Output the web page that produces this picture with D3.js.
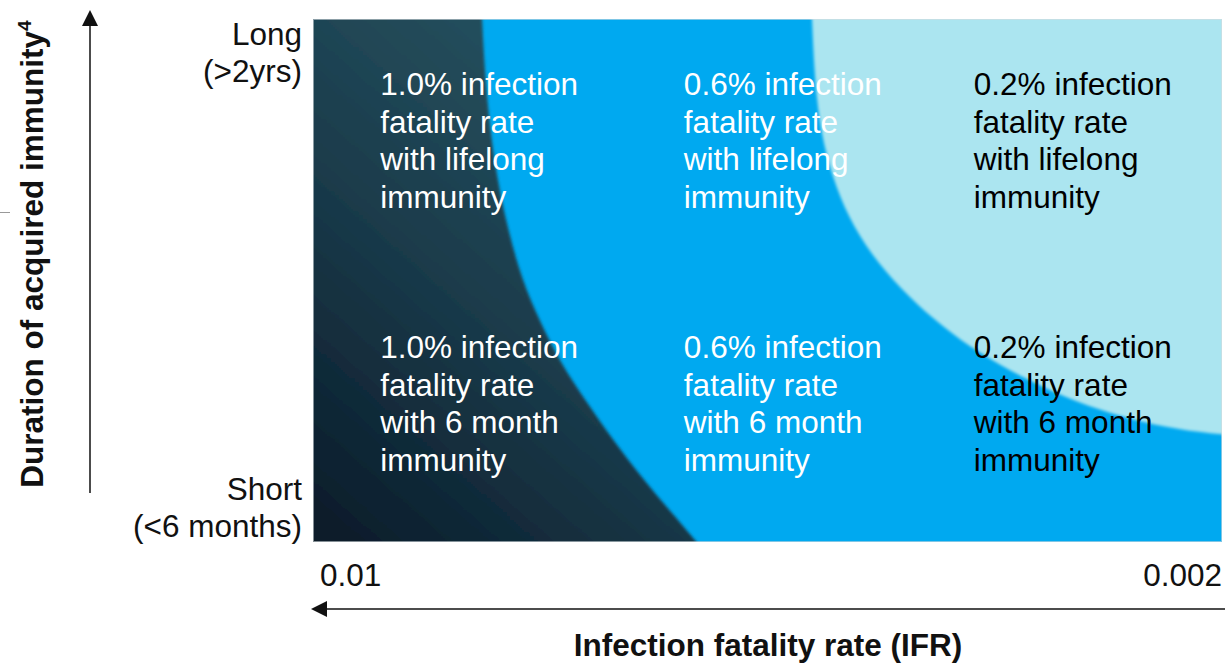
<!DOCTYPE html>
<html>
<head>
<meta charset="utf-8">
<script src="https://cdn.jsdelivr.net/npm/d3@7"></script>
<style>
  html, body { margin: 0; padding: 0; background: #ffffff; }
  svg { display: block; font-family: "Liberation Sans", Arial, sans-serif; }
</style>
</head>
<body>
<svg id="chart" width="1228" height="664"></svg>
<script>
// ---------- data ----------
// Boundary of the dark (high IFR) zone: [x%, y%] of plot (x: left->right, y: bottom->top)
const darkBoundary = [
  [18.6, 100], [18.9, 90], [19.4, 80], [20.2, 70], [21.4, 60], [23.0, 50],
  [25.0, 42], [27.3, 34], [30.0, 27], [33.0, 19.5], [36.3, 12], [39.5, 5.5], [42.2, 0]
];
// Boundary of the light (low IFR / long immunity) zone
const lightBoundary = [
  [54.9, 100], [55.2, 88], [55.9, 78], [57.1, 70], [58.9, 62], [61.4, 55],
  [64.6, 48.5], [68.3, 42.5], [72.3, 37.2], [76.8, 32.6], [81.5, 28.6], [86.5, 25.2],
  [91.5, 22.8], [96, 21.3], [100, 20.6]
];
const columnX = [7.4, 40.8, 72.7];
const rowLabels = ["lifelong", "6 month"];
const ifrLabels = ["1.0%", "0.6%", "0.2%"];
const textColors = ["#ffffff", "#ffffff", "#000000"];
const yTickLabels = [["Long", "(>2yrs)"], ["Short", "(<6 months)"]];
const xTickLabels = ["0.01", "0.002"];
const xTitle = "Infection fatality rate (IFR)";
const yTitle = "Duration of acquired immunity";

// ---------- layout ----------
const svg = d3.select("#chart");
const plot = { left: 313, right: 1222, top: 19, bottom: 542 };
const x = d3.scaleLinear().domain([0, 100]).range([plot.left, plot.right]);
const y = d3.scaleLinear().domain([0, 100]).range([plot.bottom, plot.top]);

const defs = svg.append("defs");
defs.append("clipPath").attr("id", "plotClip")
  .append("rect").attr("x", plot.left).attr("y", plot.top)
  .attr("width", plot.right - plot.left).attr("height", plot.bottom - plot.top);
defs.append("filter").attr("id", "soft").attr("x", "-10%").attr("y", "-10%")
  .attr("width", "120%").attr("height", "120%")
  .append("feGaussianBlur").attr("stdDeviation", 1.6);
const grad = defs.append("linearGradient").attr("id", "darkGrad")
  .attr("gradientUnits", "userSpaceOnUse")
  .attr("x1", x(0)).attr("y1", y(0)).attr("x2", x(38)).attr("y2", y(75));
grad.append("stop").attr("offset", 0).attr("stop-color", "#081a28");
grad.append("stop").attr("offset", 0.55).attr("stop-color", "#1a3b4b");
grad.append("stop").attr("offset", 1).attr("stop-color", "#25505e");

const line = d3.line().x(d => x(d[0])).y(d => y(d[1])).curve(d3.curveBasis);

const g = svg.append("g").attr("clip-path", "url(#plotClip)");
// base: bright blue
g.append("rect").attr("x", plot.left).attr("y", plot.top)
  .attr("width", plot.right - plot.left).attr("height", plot.bottom - plot.top)
  .attr("fill", "#00a9f0");

// light zone (extend outside to top-right)
const lightPath = line(lightBoundary) +
  `L${x(106)},${y(20.6)}L${x(106)},${y(106)}L${x(54.9)},${y(106)}Z`;
g.append("path").attr("d", lightPath)
  .attr("fill", "#abe5f0").attr("filter", "url(#soft)");

// dark zone (extend outside to left/top/bottom)
const darkPath = line(darkBoundary) +
  `L${x(42.2)},${y(-6)}L${x(-6)},${y(-6)}L${x(-6)},${y(106)}L${x(18.6)},${y(106)}Z`;
g.append("path").attr("d", darkPath)
  .attr("fill", "url(#darkGrad)").attr("filter", "url(#soft)");

// faint frame
svg.append("rect").attr("x", plot.left + 0.5).attr("y", plot.top + 0.5)
  .attr("width", plot.right - plot.left - 1).attr("height", plot.bottom - plot.top - 1)
  .attr("fill", "none").attr("stroke", "#d4dadd").attr("stroke-width", 1).attr("stroke-opacity", 0.6);

// cell texts
const fs = 31.5, lh = 37.6;
const rowBaseY = [95, 358];
rowLabels.forEach((rl, r) => {
  ifrLabels.forEach((ifr, c) => {
    const lines = [ifr + " infection", "fatality rate", "with " + rl, "immunity"];
    const t = svg.append("text").attr("font-size", fs).attr("fill", textColors[c]);
    lines.forEach((ln, i) => {
      t.append("tspan").attr("x", x(columnX[c])).attr("y", rowBaseY[r] + i * lh).text(ln);
    });
  });
});

// y tick labels
const yLabelBase = [45, 500];
yTickLabels.forEach((pair, i) => {
  const t = svg.append("text").attr("font-size", fs).attr("fill", "#111")
    .attr("text-anchor", "end");
  pair.forEach((s, j) => t.append("tspan").attr("x", 302).attr("y", yLabelBase[i] + j * 37).text(s));
});

// x tick labels
svg.append("text").attr("x", x(0) + 7).attr("y", 586).attr("font-size", fs).attr("fill", "#111")
  .attr("text-anchor", "start").text(xTickLabels[0]);
svg.append("text").attr("x", x(100)).attr("y", 586).attr("font-size", fs).attr("fill", "#111")
  .attr("text-anchor", "end").text(xTickLabels[1]);

// arrows
svg.append("line").attr("x1", 1225).attr("y1", 609).attr("x2", 324).attr("y2", 609)
  .attr("stroke", "#111").attr("stroke-width", 1.5);
svg.append("path").attr("d", "M311,609L327,601L327,617Z").attr("fill", "#111");
svg.append("line").attr("x1", 90).attr("y1", 493).attr("x2", 90).attr("y2", 22)
  .attr("stroke", "#111").attr("stroke-width", 1.5);
svg.append("path").attr("d", "M90,10L82,26L98,26Z").attr("fill", "#111");

// small stray tick at left edge
svg.append("line").attr("x1", 0).attr("y1", 212.5).attr("x2", 10).attr("y2", 212.5)
  .attr("stroke", "#999").attr("stroke-width", 1);

// axis titles
svg.append("text").attr("x", 768).attr("y", 656).attr("text-anchor", "middle")
  .attr("font-size", 31.5).attr("font-weight", "bold").attr("fill", "#111").text(xTitle);
const yt = svg.append("text").attr("transform", "translate(43,254) rotate(-90)")
  .attr("text-anchor", "middle").attr("font-size", 31.5).attr("font-weight", "bold").attr("fill", "#111");
yt.append("tspan").text(yTitle);
yt.append("tspan").attr("font-size", 19).attr("dy", -12).text("4");
</script>
</body>
</html>
